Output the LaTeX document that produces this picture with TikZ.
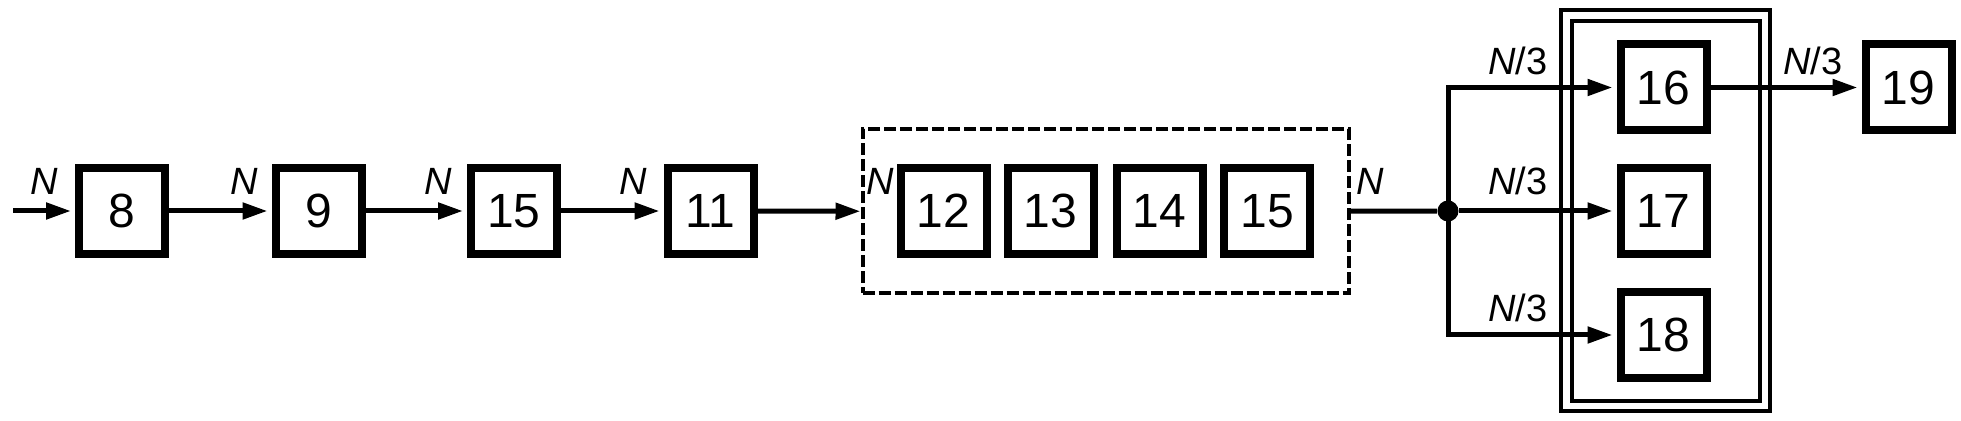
\documentclass[tikz,border=0pt]{standalone}
\usepackage{fontspec}
\setmainfont{Liberation Sans}
\usetikzlibrary{arrows.meta}
\begin{document}
\begin{tikzpicture}[x=0.5pt,y=-0.5pt,
  blk/.style={draw,line width=4pt,minimum width=43pt,minimum height=43pt,inner sep=0pt,font=\fontsize{24}{24}\selectfont},
  lbl/.style={inner sep=0pt,font=\fontsize{19}{19}\selectfont},
  conn/.style={line width=2.5pt},
  arr/.style={conn,-{Triangle[length=12.5pt,width=8pt]},shorten >=2pt},
  frm/.style={draw,line width=2pt,inner sep=0pt},
  grp/.style={draw,line width=2pt,dash pattern=on 6pt off 2pt,inner sep=0pt}]
\useasboundingbox (0,0) rectangle (1961,421);
% group frames
\node[grp,minimum width=243.25pt,minimum height=82.25pt] (grp) at (1105.75,211.25) {};
\node[frm,minimum width=104.5pt,minimum height=200.5pt] (fo) at (1665.5,210.5) {};
\node[frm,minimum width=94pt,minimum height=190pt] (fi) at (1666,211) {};
% blocks
\node[blk] (b8) at (122,211) {8};
\node[blk] (b9) at (318.5,211) {9};
\node[blk] (b15a) at (514,211) {15};
\node[blk] (b11) at (710.5,211) {11};
\node[blk] (b12) at (943.5,211) {12};
\node[blk] (b13) at (1050.5,211) {13};
\node[blk] (b14) at (1159.5,211) {14};
\node[blk] (b15b) at (1267,211) {15};
\node[blk] (b16) at (1663.5,87.5) {16};
\node[blk] (b17) at (1663.5,211) {17};
\node[blk] (b18) at (1663.5,335) {18};
\node[blk] (b19) at (1908.5,87.5) {19};
\node[circle,fill,inner sep=0pt,minimum size=10.5pt] (dot) at (1448,211) {};
\coordinate (in) at (13,211);
% connectors
\draw[arr] (in) -- (b8);
\draw[arr] (b8) -- (b9);
\draw[arr] (b9) -- (b15a);
\draw[arr] (b15a) -- (b11);
\draw[arr,shorten >=0pt] (b11) -- (grp.west);
\draw[conn] (grp.east) -- (dot);
\draw[arr] (dot.center) |- (b16.west);
\draw[arr] (dot) -- (b17);
\draw[arr] (dot.center) |- (b18.west);
\draw[arr] (b16) -- (b19);
% labels
\node[lbl,anchor=base east] (l8) at (58,195) {\textit{N}};
\node[lbl,anchor=base east] (l9) at (258,195) {\textit{N}};
\node[lbl,anchor=base east] (l15) at (452,195) {\textit{N}};
\node[lbl,anchor=base east] (l11) at (647,195) {\textit{N}};
\node[lbl,anchor=base west] (lgi) at (866,195) {\textit{N}};
\node[lbl,anchor=base west] (lgo) at (1356,195) {\textit{N}};
\node[lbl,anchor=base east] (l16) at (1548,75) {\textit{N}/3};
\node[lbl,anchor=base east] (l17) at (1548,195) {\textit{N}/3};
\node[lbl,anchor=base east] (l18) at (1548,322) {\textit{N}/3};
\node[lbl,anchor=base east] (l19) at (1843,75) {\textit{N}/3};
\end{tikzpicture}
\end{document}
